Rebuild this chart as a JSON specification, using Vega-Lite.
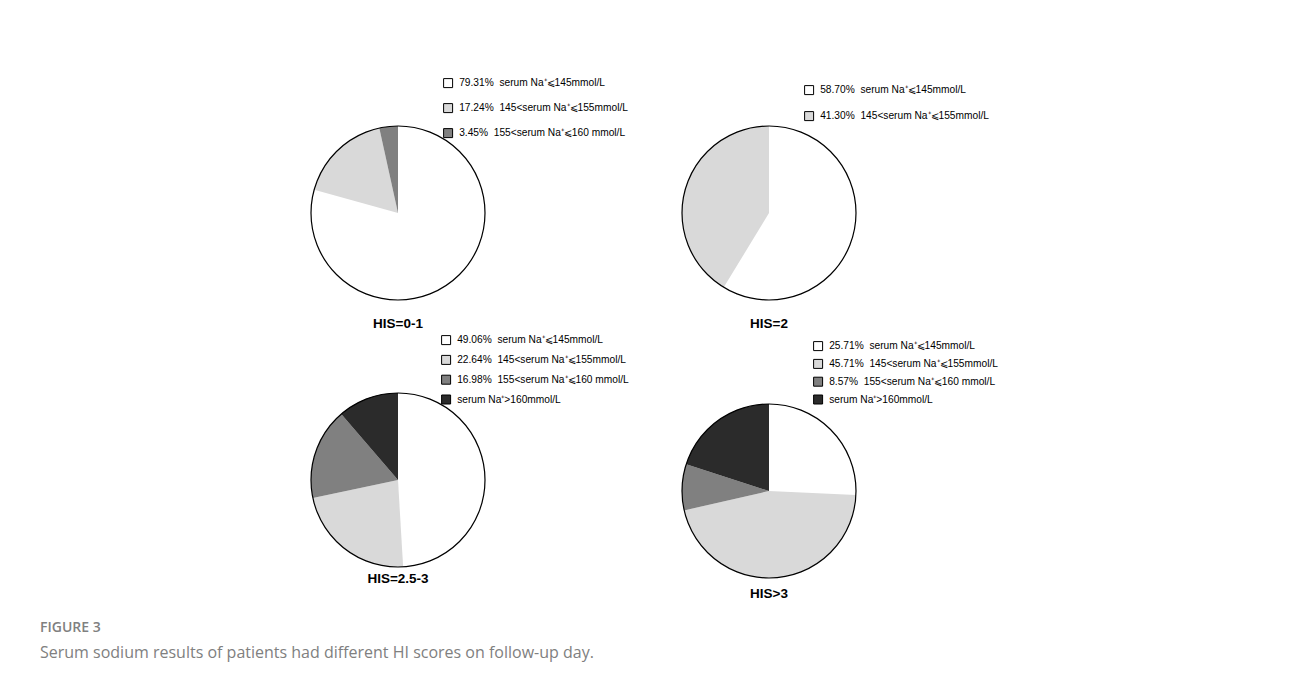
{
  "$schema": "https://vega.github.io/schema/vega-lite/v6.json",
  "autosize": {"type": "none"},
  "padding": {"left": 248, "top": 125, "right": 1044, "bottom": 564},
  "background": "white",
  "bounds": "flush",
  "columns": 2,
  "spacing": {"column": 71, "row": 91},
  "title": {
    "text": "FIGURE 3",
    "subtitle": "Serum sodium results of patients had different HI scores on follow-up day.",
    "orient": "bottom",
    "anchor": "start",
    "frame": "group",
    "dx": -208,
    "offset": 20,
    "font": "Open Sans",
    "fontSize": 14,
    "fontWeight": 600,
    "color": "#808080",
    "subtitleFont": "Open Sans",
    "subtitleFontSize": 16,
    "subtitleColor": "#808080",
    "subtitlePadding": 10
  },
  "datasets": {
    "pies": [
      {"group": "HIS=0-1", "k": 1, "pct": 79.31, "label": "79.31%\u00a0 serum Na⁺⩽145mmol/L"},
      {"group": "HIS=0-1", "k": 2, "pct": 17.24, "label": "17.24%\u00a0 145<serum Na⁺⩽155mmol/L"},
      {"group": "HIS=0-1", "k": 3, "pct": 3.45, "label": "3.45%\u00a0 155<serum Na⁺⩽160 mmol/L"},
      {"group": "HIS=2", "k": 1, "pct": 58.70, "label": "58.70%\u00a0 serum Na⁺⩽145mmol/L"},
      {"group": "HIS=2", "k": 2, "pct": 41.30, "label": "41.30%\u00a0 145<serum Na⁺⩽155mmol/L"},
      {"group": "HIS=2.5-3", "k": 1, "pct": 49.06, "label": "49.06%\u00a0 serum Na⁺⩽145mmol/L"},
      {"group": "HIS=2.5-3", "k": 2, "pct": 22.64, "label": "22.64%\u00a0 145<serum Na⁺⩽155mmol/L"},
      {"group": "HIS=2.5-3", "k": 3, "pct": 16.98, "label": "16.98%\u00a0 155<serum Na⁺⩽160 mmol/L"},
      {"group": "HIS=2.5-3", "k": 4, "pct": 11.32, "label": "serum Na⁺>160mmol/L"},
      {"group": "HIS>3", "k": 1, "pct": 25.71, "label": "25.71%\u00a0 serum Na⁺⩽145mmol/L"},
      {"group": "HIS>3", "k": 2, "pct": 45.71, "label": "45.71%\u00a0 145<serum Na⁺⩽155mmol/L"},
      {"group": "HIS>3", "k": 3, "pct": 8.57, "label": "8.57%\u00a0 155<serum Na⁺⩽160 mmol/L"},
      {"group": "HIS>3", "k": 4, "pct": 20.01, "label": "serum Na⁺>160mmol/L"}
    ]
  },
  "concat": [
    {
      "width": 300, "height": 176,
      "data": {"name": "pies"},
      "transform": [{"filter": "datum.group === 'HIS=0-1'"}],
      "title": {"text": "HIS=0-1", "orient": "bottom", "offset": 15},
      "layer": [
        {
          "mark": {"type": "arc", "outerRadius": 87},
          "encoding": {
            "theta": {"field": "pct", "type": "quantitative", "stack": true},
            "order": {"field": "k", "type": "quantitative"},
            "color": {
              "field": "label", "type": "nominal",
              "scale": {"domain": ["79.31%\u00a0 serum Na⁺⩽145mmol/L", "17.24%\u00a0 145<serum Na⁺⩽155mmol/L", "3.45%\u00a0 155<serum Na⁺⩽160 mmol/L"], "range": ["#ffffff", "#d9d9d9", "#808080"]},
              "legend": {"orient": "none", "legendX": 195, "legendY": -47, "rowPadding": 11}
            }
          }
        },
        {
          "mark": {"type": "arc", "outerRadius": 87, "filled": false, "stroke": "black", "strokeWidth": 1.2},
          "encoding": {"theta": {"aggregate": "sum", "field": "pct", "type": "quantitative"}}
        }
      ]
    },
    {
      "width": 300, "height": 176,
      "data": {"name": "pies"},
      "transform": [{"filter": "datum.group === 'HIS=2'"}],
      "title": {"text": "HIS=2", "orient": "bottom", "offset": 15},
      "layer": [
        {
          "mark": {"type": "arc", "outerRadius": 87},
          "encoding": {
            "theta": {"field": "pct", "type": "quantitative", "stack": true},
            "order": {"field": "k", "type": "quantitative"},
            "color": {
              "field": "label", "type": "nominal",
              "scale": {"domain": ["58.70%\u00a0 serum Na⁺⩽145mmol/L", "41.30%\u00a0 145<serum Na⁺⩽155mmol/L"], "range": ["#ffffff", "#d9d9d9"]},
              "legend": {"orient": "none", "legendX": 185, "legendY": -40, "rowPadding": 12}
            }
          }
        },
        {
          "mark": {"type": "arc", "outerRadius": 87, "filled": false, "stroke": "black", "strokeWidth": 1.2},
          "encoding": {"theta": {"aggregate": "sum", "field": "pct", "type": "quantitative"}}
        }
      ]
    },
    {
      "width": 300, "height": 176,
      "data": {"name": "pies"},
      "transform": [{"filter": "datum.group === 'HIS=2.5-3'"}],
      "title": {"text": "HIS=2.5-3", "orient": "bottom", "offset": 3},
      "layer": [
        {
          "mark": {"type": "arc", "outerRadius": 87},
          "encoding": {
            "theta": {"field": "pct", "type": "quantitative", "stack": true},
            "order": {"field": "k", "type": "quantitative"},
            "color": {
              "field": "label", "type": "nominal",
              "scale": {"domain": ["49.06%\u00a0 serum Na⁺⩽145mmol/L", "22.64%\u00a0 145<serum Na⁺⩽155mmol/L", "16.98%\u00a0 155<serum Na⁺⩽160 mmol/L", "serum Na⁺>160mmol/L"], "range": ["#ffffff", "#d9d9d9", "#808080", "#2b2b2b"]},
              "legend": {"orient": "none", "legendX": 193, "legendY": -57, "rowPadding": 5.8}
            }
          }
        },
        {
          "mark": {"type": "arc", "outerRadius": 87, "filled": false, "stroke": "black", "strokeWidth": 1.2},
          "encoding": {"theta": {"aggregate": "sum", "field": "pct", "type": "quantitative"}}
        }
      ]
    },
    {
      "width": 300, "height": 198,
      "data": {"name": "pies"},
      "transform": [{"filter": "datum.group === 'HIS>3'"}],
      "title": {"text": "HIS>3", "orient": "bottom", "offset": -3},
      "layer": [
        {
          "mark": {"type": "arc", "outerRadius": 87},
          "encoding": {
            "theta": {"field": "pct", "type": "quantitative", "stack": true},
            "order": {"field": "k", "type": "quantitative"},
            "color": {
              "field": "label", "type": "nominal",
              "scale": {"domain": ["25.71%\u00a0 serum Na⁺⩽145mmol/L", "45.71%\u00a0 145<serum Na⁺⩽155mmol/L", "8.57%\u00a0 155<serum Na⁺⩽160 mmol/L", "serum Na⁺>160mmol/L"], "range": ["#ffffff", "#d9d9d9", "#808080", "#2b2b2b"]},
              "legend": {"orient": "none", "legendX": 194, "legendY": -51, "rowPadding": 3.8}
            }
          }
        },
        {
          "mark": {"type": "arc", "outerRadius": 87, "filled": false, "stroke": "black", "strokeWidth": 1.2},
          "encoding": {"theta": {"aggregate": "sum", "field": "pct", "type": "quantitative"}}
        }
      ]
    }
  ],
  "resolve": {
    "scale": {"color": "independent", "theta": "independent"},
    "legend": {"color": "independent"}
  },
  "config": {
    "view": {"stroke": null},
    "title": {"font": "Liberation Sans", "fontSize": 13.5, "fontWeight": "bold", "color": "black"},
    "legend": {
      "title": null,
      "padding": 0,
      "symbolType": "square",
      "symbolSize": 81,
      "symbolStrokeColor": "black",
      "symbolStrokeWidth": 1,
      "labelFont": "Liberation Sans",
      "labelFontSize": 10.2,
      "labelColor": "black",
      "labelLimit": 0,
      "labelOffset": 6
    }
  }
}
